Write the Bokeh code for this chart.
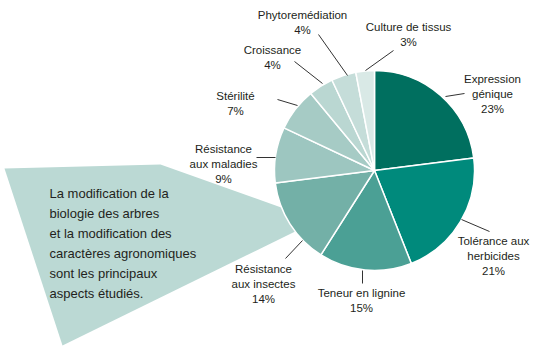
import math
from bokeh.plotting import figure
from bokeh.models import Range1d
from bokeh.core.properties import value
from bokeh.embed import file_html
from bokeh.resources import INLINE

# ---- data ----
categories = ["Expression génique", "Tolérance aux herbicides", "Teneur en lignine",
              "Résistance aux insectes", "Résistance aux maladies", "Stérilité",
              "Croissance", "Phytoremédiation", "Culture de tissus"]
percents = [23, 21, 15, 14, 9, 7, 4, 4, 3]
label_lines = [["Expression", "génique"], ["Tolérance aux", "herbicides"], ["Teneur en lignine"],
               ["Résistance", "aux insectes"], ["Résistance", "aux maladies"], ["Stérilité"],
               ["Croissance"], ["Phytoremédiation"], ["Culture de tissus"]]
colors = ["#006F5F", "#008A7C", "#4BA095", "#73B0A7", "#9DC6C0", "#A6CBC5",
          "#BAD7D2", "#C5DDD9", "#D9E9E6"]
callout_text = ["La modification de la", "biologie des arbres", "et la modification des",
                "caractères agronomiques", "sont les principaux", "aspects étudiés."]

# ---- layout (screen px, y down) ----
W, H = 537, 350
CX, CY, R = 374, 170, 100
label_pos = [(492, 78), (493, 240), (361, 292), (263, 268), (223, 148),
             (235, 95), (272, 49), (302, 14), (408, 26)]
leaders = [((445, 96), (464, 93)), ((461, 219), (489, 231)), ((362, 270), (362, 283)),
           ((302, 240), (285, 258)), ((275, 157), (256, 157)), ((297, 105), (277, 99)),
           ((322, 83), (294, 61)), ((347, 75), (318, 34)), ((365, 70), (393, 50))]
callout_poly = [(4, 168), (160, 164), (317, 220), (62, 345)]

def Y(y):
    return H - y

p = figure(width=W, height=H, output_backend="svg", toolbar_location=None,
           x_range=Range1d(0, W), y_range=Range1d(0, H),
           x_axis_location=None, y_axis_location=None, min_border=0)
p.grid.visible = False
p.outline_line_color = None
p.background_fill_color = "white"
p.border_fill_color = "white"

# callout shape
p.patch([q[0] for q in callout_poly], [Y(q[1]) for q in callout_poly],
        fill_color="#BBD9D4", line_color=None)

# pie
total = sum(percents)
cum = 0.0
starts, ends = [], []
for v in percents:
    starts.append(math.pi / 2 - 2 * math.pi * cum / total)
    cum += v
    ends.append(math.pi / 2 - 2 * math.pi * cum / total)
p.wedge(x=CX, y=Y(CY), radius=R, start_angle=starts, end_angle=ends, direction="clock",
        fill_color=colors, line_color="white", line_width=1.5)

# leaders
p.segment(x0=[l[0][0] for l in leaders], y0=[Y(l[0][1]) for l in leaders],
          x1=[l[1][0] for l in leaders], y1=[Y(l[1][1]) for l in leaders],
          line_color="#333333", line_width=1)

# labels
tx, ty, tt = [], [], []
for (lx, ly), lines, pc in zip(label_pos, label_lines, percents):
    for i, s in enumerate(lines + [f"{pc}%"]):
        tx.append(lx)
        ty.append(Y(ly + 15 * i))
        tt.append(s)
p.text(x=tx, y=ty, text=tt, text_align="center", text_baseline="middle",
       text_font=value("Liberation Sans"), text_font_size="11.5px", text_color="#231F20")

# callout text
p.text(x=[49] * len(callout_text), y=[Y(193 + 20 * i) for i in range(len(callout_text))],
       text=callout_text, text_align="left", text_baseline="middle",
       text_font=value("Liberation Sans"), text_font_size="13px", text_color="#231F20")

open("out.html", "w").write(file_html(p, INLINE))
